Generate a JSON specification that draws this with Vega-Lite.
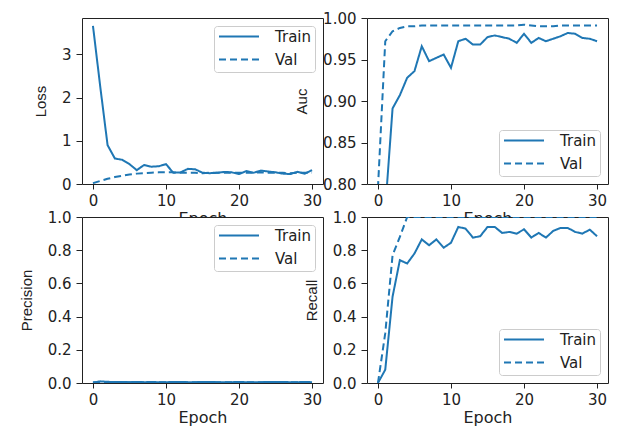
{
  "$schema": "https://vega.github.io/schema/vega-lite/v6.json",
  "background": "white",
  "padding": {"left": 18, "top": 10, "right": 5, "bottom": 5},
  "datasets": {
    "history": [
      {"epoch": 0, "set": "Train", "loss": 3.66, "auc": 0.55, "precision": 0.002, "recall": 0.0},
      {"epoch": 1, "set": "Train", "loss": 2.25, "auc": 0.77, "precision": 0.010, "recall": 0.08},
      {"epoch": 2, "set": "Train", "loss": 0.90, "auc": 0.891, "precision": 0.007, "recall": 0.52},
      {"epoch": 3, "set": "Train", "loss": 0.59, "auc": 0.907, "precision": 0.006, "recall": 0.74},
      {"epoch": 4, "set": "Train", "loss": 0.56, "auc": 0.928, "precision": 0.006, "recall": 0.72},
      {"epoch": 5, "set": "Train", "loss": 0.46, "auc": 0.936, "precision": 0.005, "recall": 0.78},
      {"epoch": 6, "set": "Train", "loss": 0.32, "auc": 0.966, "precision": 0.006, "recall": 0.865},
      {"epoch": 7, "set": "Train", "loss": 0.44, "auc": 0.948, "precision": 0.005, "recall": 0.83},
      {"epoch": 8, "set": "Train", "loss": 0.40, "auc": 0.952, "precision": 0.006, "recall": 0.865},
      {"epoch": 9, "set": "Train", "loss": 0.41, "auc": 0.956, "precision": 0.005, "recall": 0.815},
      {"epoch": 10, "set": "Train", "loss": 0.46, "auc": 0.940, "precision": 0.005, "recall": 0.845},
      {"epoch": 11, "set": "Train", "loss": 0.26, "auc": 0.972, "precision": 0.006, "recall": 0.94},
      {"epoch": 12, "set": "Train", "loss": 0.27, "auc": 0.975, "precision": 0.006, "recall": 0.93},
      {"epoch": 13, "set": "Train", "loss": 0.35, "auc": 0.968, "precision": 0.005, "recall": 0.876},
      {"epoch": 14, "set": "Train", "loss": 0.34, "auc": 0.968, "precision": 0.005, "recall": 0.884},
      {"epoch": 15, "set": "Train", "loss": 0.26, "auc": 0.977, "precision": 0.006, "recall": 0.94},
      {"epoch": 16, "set": "Train", "loss": 0.25, "auc": 0.979, "precision": 0.006, "recall": 0.94},
      {"epoch": 17, "set": "Train", "loss": 0.26, "auc": 0.977, "precision": 0.005, "recall": 0.904},
      {"epoch": 18, "set": "Train", "loss": 0.28, "auc": 0.975, "precision": 0.005, "recall": 0.91},
      {"epoch": 19, "set": "Train", "loss": 0.27, "auc": 0.970, "precision": 0.005, "recall": 0.90},
      {"epoch": 20, "set": "Train", "loss": 0.23, "auc": 0.981, "precision": 0.006, "recall": 0.926},
      {"epoch": 21, "set": "Train", "loss": 0.30, "auc": 0.970, "precision": 0.005, "recall": 0.876},
      {"epoch": 22, "set": "Train", "loss": 0.26, "auc": 0.976, "precision": 0.005, "recall": 0.904},
      {"epoch": 23, "set": "Train", "loss": 0.31, "auc": 0.972, "precision": 0.005, "recall": 0.876},
      {"epoch": 24, "set": "Train", "loss": 0.29, "auc": 0.975, "precision": 0.006, "recall": 0.916},
      {"epoch": 25, "set": "Train", "loss": 0.27, "auc": 0.978, "precision": 0.006, "recall": 0.934},
      {"epoch": 26, "set": "Train", "loss": 0.24, "auc": 0.982, "precision": 0.006, "recall": 0.934},
      {"epoch": 27, "set": "Train", "loss": 0.23, "auc": 0.981, "precision": 0.005, "recall": 0.91},
      {"epoch": 28, "set": "Train", "loss": 0.28, "auc": 0.976, "precision": 0.005, "recall": 0.90},
      {"epoch": 29, "set": "Train", "loss": 0.24, "auc": 0.975, "precision": 0.006, "recall": 0.924},
      {"epoch": 30, "set": "Train", "loss": 0.32, "auc": 0.972, "precision": 0.005, "recall": 0.884},
      {"epoch": 0, "set": "Val", "loss": 0.02, "auc": 0.795, "precision": 0.004, "recall": 0.0},
      {"epoch": 1, "set": "Val", "loss": 0.07, "auc": 0.972, "precision": 0.004, "recall": 0.30},
      {"epoch": 2, "set": "Val", "loss": 0.12, "auc": 0.984, "precision": 0.004, "recall": 0.77},
      {"epoch": 3, "set": "Val", "loss": 0.16, "auc": 0.988, "precision": 0.004, "recall": 0.88},
      {"epoch": 4, "set": "Val", "loss": 0.19, "auc": 0.990, "precision": 0.004, "recall": 1.0},
      {"epoch": 5, "set": "Val", "loss": 0.22, "auc": 0.990, "precision": 0.004, "recall": 1.0},
      {"epoch": 6, "set": "Val", "loss": 0.24, "auc": 0.991, "precision": 0.004, "recall": 1.0},
      {"epoch": 7, "set": "Val", "loss": 0.25, "auc": 0.991, "precision": 0.004, "recall": 1.0},
      {"epoch": 8, "set": "Val", "loss": 0.26, "auc": 0.991, "precision": 0.004, "recall": 1.0},
      {"epoch": 9, "set": "Val", "loss": 0.27, "auc": 0.991, "precision": 0.004, "recall": 1.0},
      {"epoch": 10, "set": "Val", "loss": 0.27, "auc": 0.991, "precision": 0.004, "recall": 1.0},
      {"epoch": 11, "set": "Val", "loss": 0.27, "auc": 0.991, "precision": 0.004, "recall": 1.0},
      {"epoch": 12, "set": "Val", "loss": 0.26, "auc": 0.991, "precision": 0.004, "recall": 1.0},
      {"epoch": 13, "set": "Val", "loss": 0.26, "auc": 0.991, "precision": 0.004, "recall": 1.0},
      {"epoch": 14, "set": "Val", "loss": 0.26, "auc": 0.991, "precision": 0.004, "recall": 1.0},
      {"epoch": 15, "set": "Val", "loss": 0.25, "auc": 0.991, "precision": 0.004, "recall": 1.0},
      {"epoch": 16, "set": "Val", "loss": 0.26, "auc": 0.991, "precision": 0.004, "recall": 1.0},
      {"epoch": 17, "set": "Val", "loss": 0.26, "auc": 0.991, "precision": 0.004, "recall": 1.0},
      {"epoch": 18, "set": "Val", "loss": 0.26, "auc": 0.991, "precision": 0.004, "recall": 1.0},
      {"epoch": 19, "set": "Val", "loss": 0.26, "auc": 0.991, "precision": 0.004, "recall": 1.0},
      {"epoch": 20, "set": "Val", "loss": 0.26, "auc": 0.992, "precision": 0.004, "recall": 1.0},
      {"epoch": 21, "set": "Val", "loss": 0.26, "auc": 0.991, "precision": 0.004, "recall": 1.0},
      {"epoch": 22, "set": "Val", "loss": 0.26, "auc": 0.990, "precision": 0.004, "recall": 1.0},
      {"epoch": 23, "set": "Val", "loss": 0.27, "auc": 0.990, "precision": 0.004, "recall": 1.0},
      {"epoch": 24, "set": "Val", "loss": 0.26, "auc": 0.990, "precision": 0.004, "recall": 1.0},
      {"epoch": 25, "set": "Val", "loss": 0.26, "auc": 0.991, "precision": 0.004, "recall": 1.0},
      {"epoch": 26, "set": "Val", "loss": 0.26, "auc": 0.991, "precision": 0.004, "recall": 1.0},
      {"epoch": 27, "set": "Val", "loss": 0.25, "auc": 0.991, "precision": 0.004, "recall": 1.0},
      {"epoch": 28, "set": "Val", "loss": 0.26, "auc": 0.991, "precision": 0.004, "recall": 1.0},
      {"epoch": 29, "set": "Val", "loss": 0.26, "auc": 0.991, "precision": 0.004, "recall": 1.0},
      {"epoch": 30, "set": "Val", "loss": 0.26, "auc": 0.991, "precision": 0.004, "recall": 1.0}
    ]
  },
  "data": {"name": "history"},
  "columns": 2,
  "bounds": "flush",
  "spacing": {"row": 33, "column": 44},
  "resolve": {
    "scale": {"strokeDash": "independent", "x": "independent", "y": "independent"},
    "legend": {"strokeDash": "independent"}
  },
  "concat": [
    {
      "width": 241,
      "height": 166,
      "mark": {"type": "line", "clip": true, "strokeWidth": 2, "color": "#1f77b4"},
      "encoding": {
        "x": {"field": "epoch", "type": "quantitative", "title": "Epoch",
              "scale": {"domain": [-1.5, 31.5], "nice": false, "zero": false},
              "axis": {"values": [0, 10, 20, 30]}},
        "y": {"field": "loss", "type": "quantitative", "title": "Loss",
              "scale": {"domain": [0, 3.84], "nice": false, "zero": false},
              "axis": {"values": [0, 1, 2, 3], "format": "d"}},
        "strokeDash": {"field": "set", "type": "nominal",
              "scale": {"domain": ["Train", "Val"], "range": [[1, 0], [7, 4]]},
              "legend": {"title": null, "orient": "top-right"}}
      }
    },
    {
      "width": 241,
      "height": 166,
      "mark": {"type": "line", "clip": true, "strokeWidth": 2, "color": "#1f77b4"},
      "encoding": {
        "x": {"field": "epoch", "type": "quantitative", "title": "Epoch",
              "scale": {"domain": [-1.5, 31.5], "nice": false, "zero": false},
              "axis": {"values": [0, 10, 20, 30]}},
        "y": {"field": "auc", "type": "quantitative", "title": "Auc",
              "scale": {"domain": [0.8, 1.0], "nice": false, "zero": false},
              "axis": {"values": [0.8, 0.85, 0.9, 0.95, 1.0], "format": ".2f"}},
        "strokeDash": {"field": "set", "type": "nominal",
              "scale": {"domain": ["Train", "Val"], "range": [[1, 0], [7, 4]]},
              "legend": {"title": null, "orient": "bottom-right"}}
      }
    },
    {
      "width": 241,
      "height": 166,
      "mark": {"type": "line", "clip": true, "strokeWidth": 2, "color": "#1f77b4"},
      "encoding": {
        "x": {"field": "epoch", "type": "quantitative", "title": "Epoch",
              "scale": {"domain": [-1.5, 31.5], "nice": false, "zero": false},
              "axis": {"values": [0, 10, 20, 30]}},
        "y": {"field": "precision", "type": "quantitative", "title": "Precision",
              "scale": {"domain": [0, 1], "nice": false, "zero": false},
              "axis": {"values": [0, 0.2, 0.4, 0.6, 0.8, 1.0], "format": ".1f"}},
        "strokeDash": {"field": "set", "type": "nominal",
              "scale": {"domain": ["Train", "Val"], "range": [[1, 0], [7, 4]]},
              "legend": {"title": null, "orient": "top-right"}}
      }
    },
    {
      "width": 241,
      "height": 166,
      "mark": {"type": "line", "clip": true, "strokeWidth": 2, "color": "#1f77b4"},
      "encoding": {
        "x": {"field": "epoch", "type": "quantitative", "title": "Epoch",
              "scale": {"domain": [-1.5, 31.5], "nice": false, "zero": false},
              "axis": {"values": [0, 10, 20, 30]}},
        "y": {"field": "recall", "type": "quantitative", "title": "Recall",
              "scale": {"domain": [0, 1], "nice": false, "zero": false},
              "axis": {"values": [0, 0.2, 0.4, 0.6, 0.8, 1.0], "format": ".1f"}},
        "strokeDash": {"field": "set", "type": "nominal",
              "scale": {"domain": ["Train", "Val"], "range": [[1, 0], [7, 4]]},
              "legend": {"title": null, "orient": "bottom-right"}}
      }
    }
  ],
  "config": {
    "view": {"stroke": "#222", "strokeWidth": 1, "fill": "white"},
    "axis": {
      "grid": false,
      "domain": false,
      "labelFlush": false,
      "labelBound": false,
      "labelOverlap": false,
      "tickColor": "#222",
      "tickWidth": 1,
      "labelColor": "#222",
      "labelFont": "DejaVu Sans",
      "labelFontSize": 15,
      "titleColor": "#222",
      "titleFontWeight": "normal"
    },
    "axisX": {
      "tickSize": 5,
      "labelPadding": 4,
      "titleFont": "DejaVu Sans",
      "titleFontSize": 16,
      "titlePadding": 2
    },
    "axisY": {
      "tickSize": 6,
      "labelPadding": 5,
      "titleFont": "Liberation Sans",
      "titleFontSize": 15,
      "titlePadding": 13
    },
    "legend": {
      "symbolType": "stroke",
      "symbolSize": 1600,
      "symbolStrokeWidth": 2,
      "symbolStrokeColor": "#1f77b4",
      "clipHeight": 13,
      "rowPadding": 7,
      "labelOffset": 15,
      "labelFont": "DejaVu Sans",
      "labelFontSize": 15,
      "labelColor": "#222",
      "padding": 4,
      "offset": 8,
      "fillColor": "rgba(255,255,255,0.8)",
      "strokeColor": "#cccccc",
      "cornerRadius": 3
    }
  }
}
